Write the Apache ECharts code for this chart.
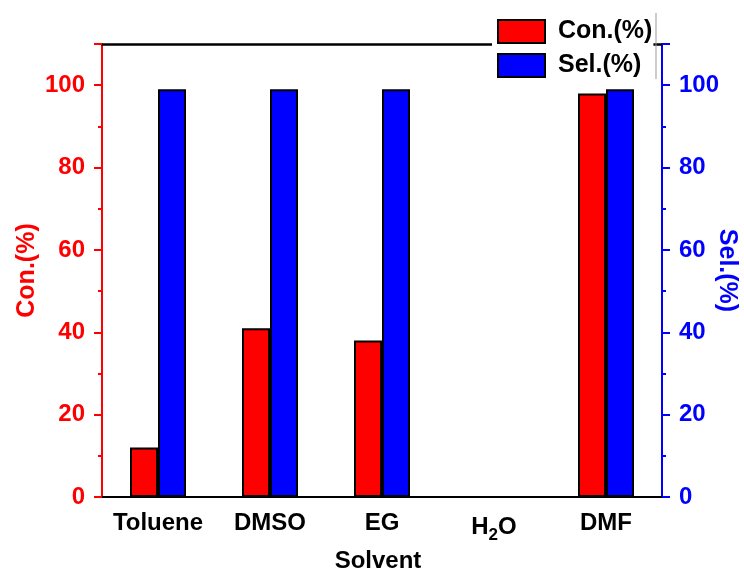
<!DOCTYPE html>
<html><head><meta charset="utf-8">
<script src="https://cdn.jsdelivr.net/npm/echarts@6/dist/echarts.min.js"></script>
<style>html,body{margin:0;padding:0;background:#fff}#c{width:744px;height:574px}</style>
</head><body><div id="c"></div>
<script>
const categories = ['Toluene', 'DMSO', 'EG', 'H2O', 'DMF'];
const conValues = [12, 41, 38, 0, 98];
const selValues = [99, 99, 99, 0, 99];
const yTicks = {min: 0, max: 110, interval: 20};

const F = '"Liberation Sans", Arial, sans-serif';
const chart = echarts.init(document.getElementById('c'), null, {renderer: 'canvas'});
const catLabel = v => v === 'H2O' ? '{n|H}{s|2}{n|O}' : v;
chart.setOption({
  animation: false,
  backgroundColor: '#fff',
  grid: {left: 102, right: 82, top: 44, bottom: 77, containLabel: false, outerBoundsMode: 'none'},
  legend: {
    orient: 'vertical', left: 492, top: 13, backgroundColor: '#fff', icon: 'rect',
    padding: [6, 1, 5, 5], itemWidth: 47, itemHeight: 23, itemGap: 9,
    textStyle: {fontFamily: F, fontWeight: 'bold', fontSize: 25, color: '#000', padding: [0, 0, 0, 8]},
    data: ['Con.(%)', 'Sel.(%)'], z: 10
  },
  graphic: [{type: 'line', shape: {x1: 656, y1: 13, x2: 656, y2: 79}, style: {stroke: '#999', lineWidth: 1}, z: 20}],
  xAxis: [{
    type: 'category', data: categories, position: 'bottom',
    name: 'Solvent', nameLocation: 'middle', nameGap: 52, nameMoveOverlap: false,
    nameTextStyle: {fontFamily: F, fontWeight: 'bold', fontSize: 24, color: '#000', padding: [0, 8, 0, 0]},
    axisLine: {lineStyle: {color: '#000', width: 2}},
    axisTick: {alignWithLabel: true, interval: 0, length: 7, lineStyle: {color: '#000', width: 2}},
    axisLabel: {margin: 14, interval: 0, fontFamily: F, fontWeight: 'bold', fontSize: 24, color: '#000',
      formatter: catLabel,
      rich: {n: {fontFamily: F, fontWeight: 'bold', fontSize: 24, color: '#000'},
             s: {fontFamily: F, fontWeight: 'bold', fontSize: 17, color: '#000', padding: [16, 0, 0, 0]}}},
    splitLine: {show: false}
  }, {
    type: 'category', data: categories, position: 'bottom',
    axisLine: {show: false},
    axisTick: {interval: 0, length: 3, lineStyle: {color: '#000', width: 2}},
    axisLabel: {show: false}, splitLine: {show: false}
  }, {
    type: 'category', data: categories, position: 'top',
    axisLine: {lineStyle: {color: '#000', width: 2.5}},
    axisTick: {show: false}, axisLabel: {show: false}, splitLine: {show: false}
  }],
  yAxis: [{
    type: 'value', position: 'left', min: yTicks.min, max: yTicks.max, interval: yTicks.interval,
    name: 'Con.(%)', nameLocation: 'middle', nameGap: 62, nameMoveOverlap: false,
    nameTextStyle: {fontFamily: F, fontWeight: 'bold', fontSize: 25, color: '#f00'},
    axisLine: {show: true, lineStyle: {color: '#f00', width: 2}},
    axisTick: {show: true, length: 8, lineStyle: {color: '#f00', width: 2}},
    minorTick: {show: true, splitNumber: 2, length: 4, lineStyle: {color: '#f00', width: 2}},
    axisLabel: {margin: 17, showMaxLabel: false, fontFamily: F, fontWeight: 'bold', fontSize: 24, color: '#f00'},
    splitLine: {show: false}
  }, {
    type: 'value', position: 'right', min: yTicks.min, max: yTicks.max, interval: yTicks.interval,
    name: 'Sel.(%)', nameLocation: 'middle', nameGap: 52, nameRotate: -90, nameMoveOverlap: false,
    nameTextStyle: {fontFamily: F, fontWeight: 'bold', fontSize: 25, color: '#00f'},
    axisLine: {show: true, lineStyle: {color: '#00f', width: 2}},
    axisTick: {show: true, length: 8, lineStyle: {color: '#00f', width: 2}},
    minorTick: {show: true, splitNumber: 2, length: 4, lineStyle: {color: '#00f', width: 2}},
    axisLabel: {margin: 17, showMaxLabel: false, fontFamily: F, fontWeight: 'bold', fontSize: 24, color: '#00f'},
    splitLine: {show: false}
  }],
  series: [{
    name: 'Con.(%)', type: 'bar', xAxisIndex: 0, yAxisIndex: 0, data: conValues,
    barWidth: '25%', barGap: '0%',
    itemStyle: {color: '#f00', borderColor: '#000', borderWidth: 2}
  }, {
    name: 'Sel.(%)', type: 'bar', xAxisIndex: 0, yAxisIndex: 1, data: selValues,
    barWidth: '25%', barGap: '0%',
    itemStyle: {color: '#00f', borderColor: '#000', borderWidth: 2}
  }]
});
</script></body></html>
